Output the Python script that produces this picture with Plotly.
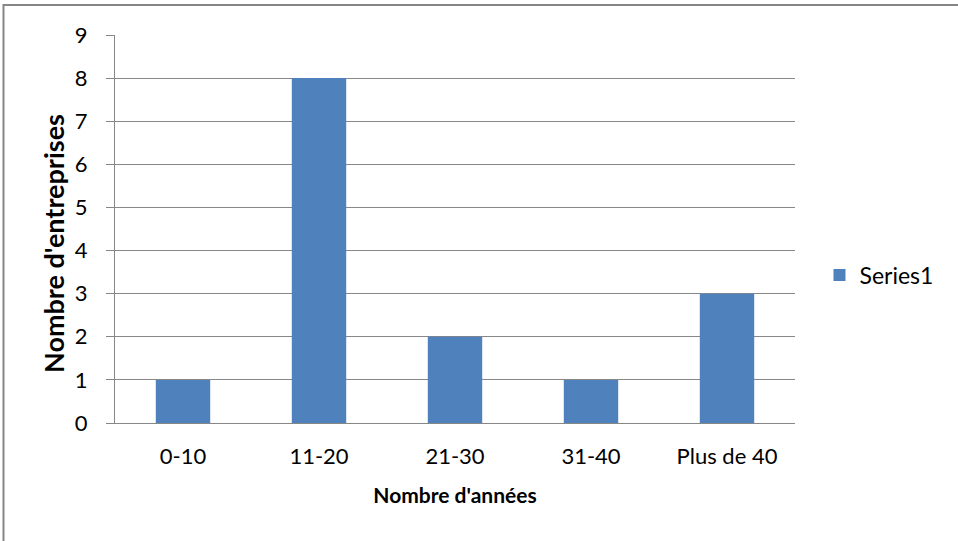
import plotly.graph_objects as go

categories = ["0-10", "11-20", "21-30", "31-40", "Plus de 40"]
values = [1, 8, 2, 1, 3]
series_name = "Series1"
x_title = "Nombre d'années"
y_title = "Nombre d'entreprises"

FONT = "Lato, Calibri, Carlito, sans-serif"
GRID = "#878787"

fig = go.Figure()
fig.add_trace(go.Bar(
    x=categories, y=values, name=series_name,
    marker=dict(color="#4F81BD", line=dict(width=0)),
    showlegend=True,
))

fig.update_layout(
    width=958, height=541,
    margin=dict(l=115, r=163, t=35, b=118),
    paper_bgcolor="white", plot_bgcolor="white",
    bargap=0.6,
    font=dict(family=FONT, size=22, color="black"),
    showlegend=True,
    legend=dict(x=1.036, y=0.381, xanchor="left", yanchor="middle",
                font=dict(size=23), itemwidth=30,
                bgcolor="rgba(0,0,0,0)"),
    xaxis=dict(
        title=dict(text="<b>" + x_title + "</b>", font=dict(size=21), standoff=19),
        showline=True, linecolor=GRID, linewidth=1,
        ticks="", showgrid=False, tickfont=dict(size=22),
        ticklabelstandoff=14,
    ),
    yaxis=dict(
        range=[0, 9], dtick=1, showgrid=True, gridcolor=GRID, gridwidth=1,
        showline=True, linecolor=GRID, linewidth=1,
        ticks="outside", ticklen=8, tickcolor=GRID, tickfont=dict(size=22),
        ticklabelstandoff=14,
        zeroline=False,
    ),
    annotations=[dict(text="<b>" + y_title + "</b>", textangle=-90,
                      xref="paper", yref="paper", x=(53 - 115) / 680,
                      y=(423 - 244) / 388, xanchor="center", yanchor="middle",
                      showarrow=False, font=dict(size=27))],
    shapes=[dict(type="rect", xref="paper", yref="paper",
                 x0=(3.5 - 115) / 680, x1=1.4, y0=-0.6, y1=(423 - 5) / 388,
                 line=dict(color="#868686", width=2), fillcolor="rgba(0,0,0,0)",
                 layer="below")],
)

# remove the browser's default 8px body margin so the figure starts at (0, 0)
fig.write_html("out.html", config={"displayModeBar": False},
               post_script="document.body.style.margin='0';")
